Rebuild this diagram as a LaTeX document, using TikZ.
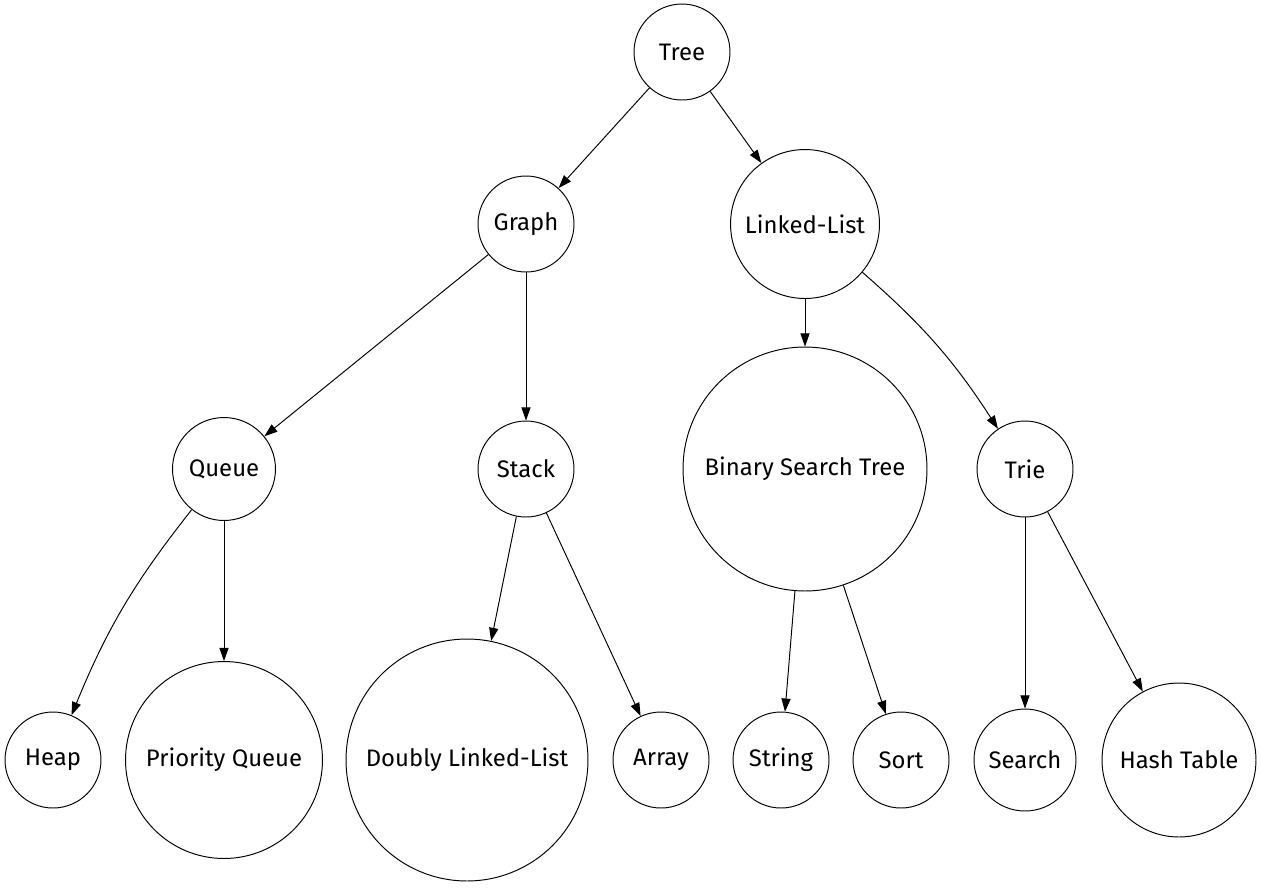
\documentclass[tikz,border=0pt]{standalone}
\usepackage{fontspec}
\setmainfont{Fira Sans}
\usepackage{tikz}
\usetikzlibrary{arrows.meta}

\begin{document}
\begin{tikzpicture}[x=0.02cm, y=-0.02cm, line width=0.55pt,
    >={Triangle[length=7.5pt, width=5.2pt]},
    vertex/.style={shape=circle, draw=black, inner sep=0pt, font=\fontsize{13.6}{15}\selectfont}]
    \useasboundingbox (0,0) rectangle (1261,887);
    \node[vertex, minimum size=1.92cm] at (682,52) (Tree) {Tree};
    \node[vertex, minimum size=1.92cm] at (526,224) (Graph) {Graph};
    \node[vertex, minimum size=2.98cm] at (805,224) (LinkedList) {Linked-List};
    \node[vertex, minimum size=2.06cm] at (224,469) (Queue) {Queue};
    \node[vertex, minimum size=1.92cm] at (526,469) (Stack) {Stack};
    \node[vertex, minimum size=4.88cm] at (805,469) (BST) {Binary Search Tree};
    \node[vertex, minimum size=1.92cm] at (1025,469) (Trie) {Trie};
    \node[vertex, minimum size=1.92cm] at (53,760) (Heap) {Heap};
    \node[vertex, minimum size=3.94cm] at (224,760) (PQ) {Priority Queue};
    \node[vertex, minimum size=4.84cm] at (467,760) (DLL) {Doubly Linked-List};
    \node[vertex, minimum size=1.92cm] at (661,760) (Array) {Array};
    \node[vertex, minimum size=1.92cm] at (781,760) (String) {String};
    \node[vertex, minimum size=1.92cm] at (901,760) (Sort) {Sort};
    \node[vertex, minimum size=2.04cm] at (1025,760) (Search) {Search};
    \node[vertex, minimum size=3.08cm] at (1179,760) (HashTable) {Hash Table};
    \path [->] (Tree) edge[] (Graph);
    \path [->] (Tree) edge[] (LinkedList);
    \path [->] (Graph) edge[] (Queue);
    \path [->] (Graph) edge[] (Stack);
    \path [->] (LinkedList) edge[] (BST);
    \path [->] (LinkedList) edge[bend left=8] (Trie);
    \path [->] (Queue) edge[bend right=8] (Heap);
    \path [->] (Queue) edge[] (PQ);
    \path [->] (Stack) edge[] (DLL);
    \path [->] (Stack) edge[] (Array);
    \path [->] (BST) edge[] (String);
    \path [->] (BST) edge[] (Sort);
    \path [->] (Trie) edge[] (Search);
    \path [->] (Trie) edge[] (HashTable);
\end{tikzpicture}
\end{document}
